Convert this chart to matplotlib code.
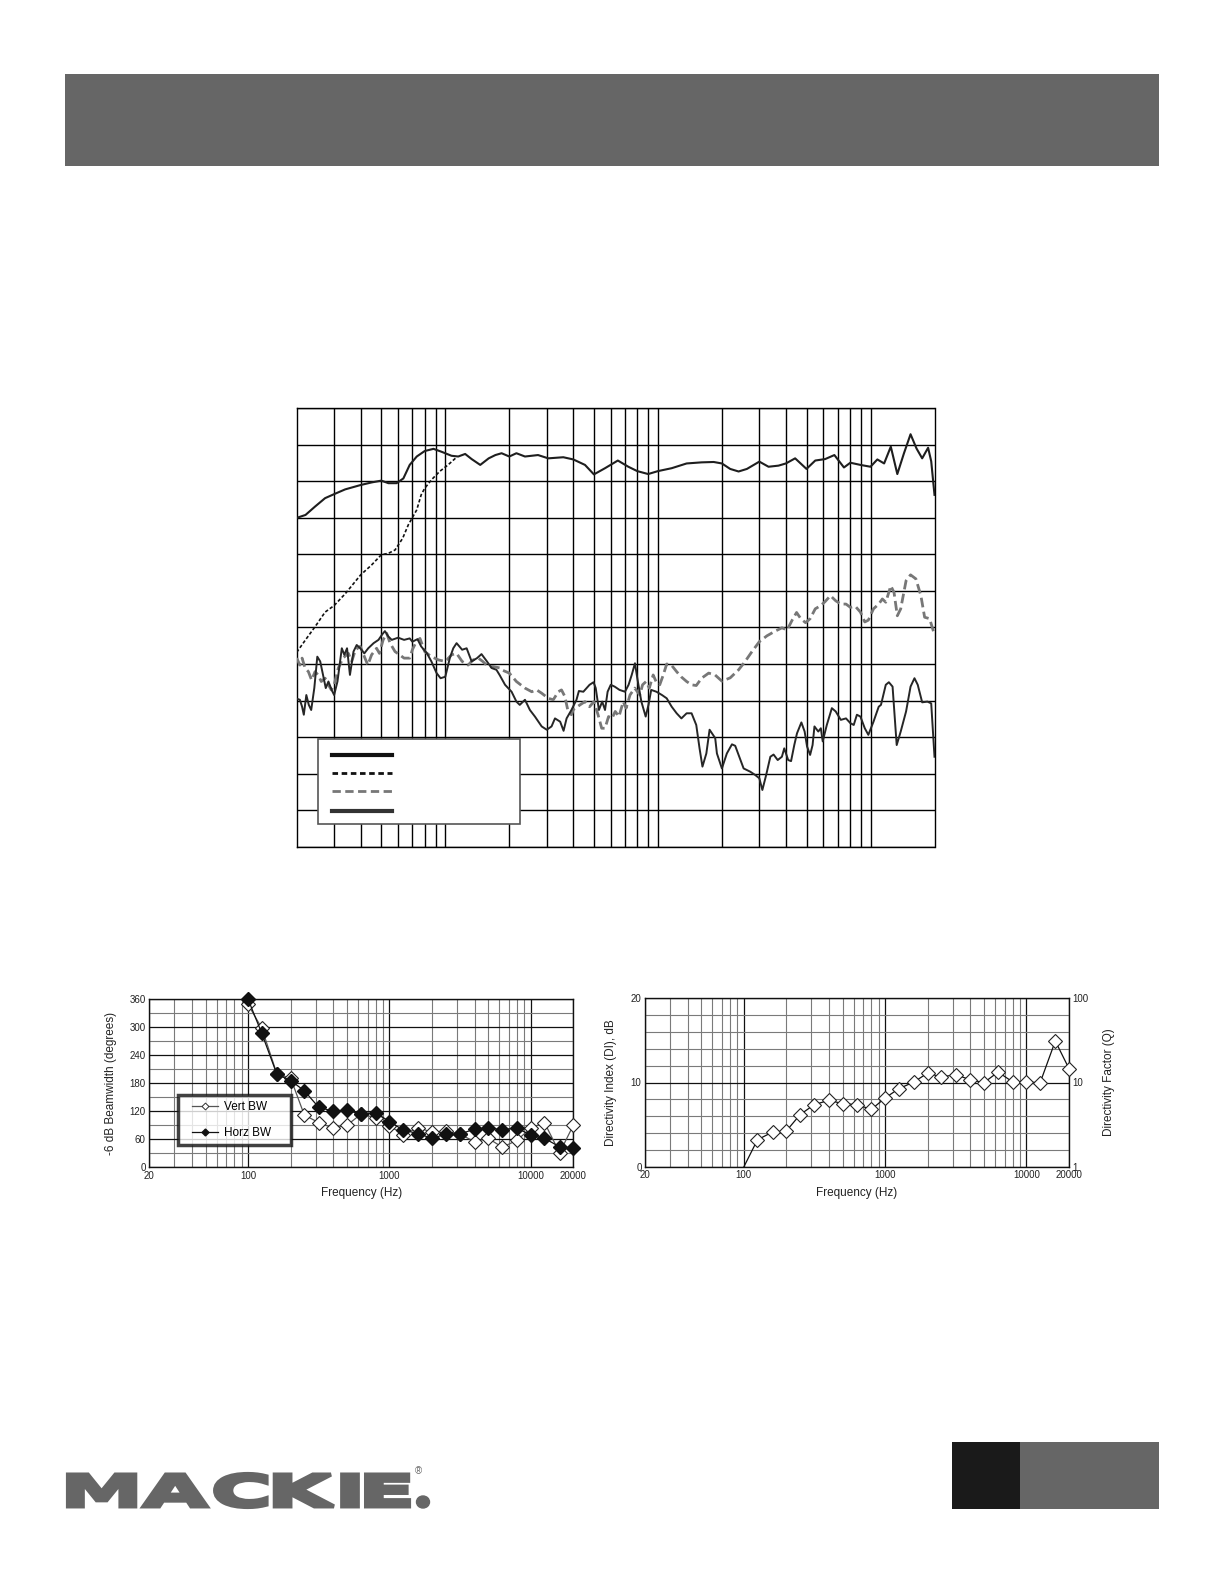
import matplotlib
matplotlib.use("Agg")
import matplotlib.pyplot as plt
from matplotlib.patches import Rectangle, PathPatch, Ellipse
from matplotlib.textpath import TextPath
from matplotlib.path import Path
from matplotlib.font_manager import FontProperties
from matplotlib.transforms import Affine2D
from matplotlib.lines import Line2D
from matplotlib.legend_handler import HandlerLine2D
from matplotlib.ticker import NullLocator, FixedLocator

# ---------------- data: main frequency-response chart (levels in grid divisions) ----
full_f = [20, 22, 24.4, 27.2, 30, 33.8, 40, 45, 50, 54,
          59, 63.5, 68, 73.4, 80, 88, 96, 107, 115, 124,
          133, 146, 160, 172, 184, 200, 216, 237, 273, 305,
          359, 400, 454, 500, 564, 648, 726, 800, 900, 1000,
          1161, 1365, 1605, 1830, 2000, 2188, 2396, 2622, 3000, 3314,
          3690, 4000, 4421, 5000, 5497, 6120, 6763, 7501, 8040, 8965,
          10000, 10770, 11590, 12460, 13370, 14370, 15430, 16460, 17500, 18660,
          19300, 20000]
full_l = [9.00, 9.08, 9.31, 9.54, 9.65, 9.78, 9.90, 9.97, 10.02, 9.95,
          9.95, 10.08, 10.45, 10.68, 10.83, 10.89, 10.81, 10.70, 10.68, 10.75,
          10.61, 10.45, 10.63, 10.72, 10.77, 10.68, 10.77, 10.68, 10.72, 10.63,
          10.66, 10.60, 10.45, 10.19, 10.36, 10.57, 10.40, 10.28, 10.20, 10.28,
          10.36, 10.49, 10.52, 10.53, 10.49, 10.34, 10.27, 10.34, 10.54, 10.40,
          10.43, 10.49, 10.63, 10.34, 10.57, 10.61, 10.72, 10.38, 10.51, 10.45,
          10.40, 10.60, 10.49, 10.95, 10.20, 10.77, 11.29, 10.90, 10.63, 10.92,
          10.55, 9.63]

lf_f = [20, 22, 24.4, 27.2, 30, 33.8, 40, 45, 50, 54,
        58, 63, 67, 73.4, 77, 80, 86, 94, 103, 113]
lf_l = [5.32, 5.66, 6.02, 6.42, 6.60, 6.92, 7.44, 7.71, 7.99, 8.03,
        8.12, 8.44, 8.81, 9.22, 9.63, 9.81, 10.04, 10.27, 10.45, 10.66]

gray_f = [20, 20.7, 21.2, 21.9, 22.7, 23.5, 24.4, 25.2, 26.1, 27.2,
          28.2, 29.1, 30, 31.4, 33, 35, 36.3, 37.8, 39.8, 41.3,
          43.2, 45, 47.5, 49, 51, 53, 55, 58, 61, 64,
          68, 70, 73, 76, 80, 86, 93, 100, 107, 113,
          120, 128, 135, 143, 150, 159, 168, 181,
          184, 200, 216, 237, 255, 269, 284, 305, 322, 340,
          352, 365, 378, 392, 400, 430, 454, 477, 500, 523,
          544, 564, 586, 608, 630, 656, 687, 709, 739, 778,
          822, 847, 880, 911, 950, 980, 1020, 1060, 1100, 1161,
          1225, 1286, 1365, 1440, 1515, 1605, 1733, 1857,
          2000, 2188, 2396, 2573, 2770, 3000, 3256, 3564, 3834, 4054,
          4280, 4490, 4700, 4950, 5200, 5497, 5840, 6120, 6480, 6860,
          7250, 7670, 8040, 8480, 8965, 9400, 9770, 10330, 10930, 11370,
          11800, 12460, 12900, 13370, 13870, 14700, 15430, 16350, 17260, 17970,
          18970, 20000]
gray_l = [5.16, 4.97, 5.16, 4.89, 4.79, 4.56, 4.79, 4.70, 4.52, 4.61,
          4.43, 4.29, 4.43, 4.89, 5.16, 5.29, 5.07, 5.39, 5.48, 5.25,
          4.97, 5.25, 5.43, 5.29, 5.66, 5.84, 5.57, 5.34, 5.25, 5.16,
          5.16, 5.39, 5.61, 5.70, 5.34, 5.20, 5.11, 5.07, 5.25, 5.29,
          5.07, 4.97, 5.11, 5.16, 5.07, 4.93, 4.93, 4.89,
          4.84, 4.75, 4.52, 4.34, 4.24, 4.29, 4.20, 4.06, 4.02, 4.24,
          4.29, 4.11, 3.70, 3.61, 3.75, 3.88, 3.97, 3.83, 3.97, 3.61,
          3.24, 3.24, 3.56, 3.51, 3.70, 3.56, 3.97, 3.79, 4.15, 4.34,
          4.15, 4.43, 4.52, 4.34, 4.70, 4.52, 4.43, 4.70, 5.00, 4.96,
          4.79, 4.65, 4.52, 4.43, 4.41, 4.61, 4.75, 4.70,
          4.53, 4.62, 4.84, 5.07, 5.34, 5.61, 5.77, 5.90, 5.99, 5.93,
          6.20, 6.41, 6.24, 6.13, 6.24, 6.51, 6.60, 6.71, 6.87, 6.73,
          6.64, 6.64, 6.55, 6.58, 6.42, 6.15, 6.20, 6.51, 6.64, 6.78,
          6.69, 7.14, 6.96, 6.32, 6.51, 7.28, 7.44, 7.33, 6.87, 6.28,
          6.24, 5.80]

dark_f = [20, 20.7, 21.2, 21.6, 22.2, 22.8, 23.4, 24.2, 25, 25.8, 26.4,
          27.4, 28.2, 29.2, 30, 31.1, 32.6, 33.5, 34.5, 35.6, 37,
          38.3, 39.8, 41.6, 43.4, 46, 48.5, 50.5, 52, 54, 56,
          60, 64, 68, 70, 74, 77, 82, 86, 91, 95,
          100, 105, 109, 113, 120, 126, 133, 141, 148, 157,
          165, 174,
          180, 191, 205, 216, 224, 237, 250, 264, 284, 300,
          316, 328, 347, 360, 372, 392, 414, 425, 446, 462,
          477, 498, 510, 528, 547, 564, 580, 600, 626, 660,
          700, 728, 753, 780, 800, 836, 876, 903, 930, 984,
          1045, 1100, 1161, 1225, 1290, 1365, 1440, 1515, 1570, 1620,
          1690, 1750, 1860,
          1895, 2000, 2110, 2230, 2310, 2396, 2530, 2720, 2870, 3000,
          3100, 3230, 3380, 3500, 3660, 3830, 3930, 4100, 4230, 4380,
          4510, 4730, 4900, 5030, 5200, 5340, 5450, 5680, 5840, 5960,
          6230, 6580, 6860, 7250, 7670, 8040, 8340, 8630, 8965, 9400,
          9770, 10330, 10930, 11200, 11800, 12200, 12700, 13280, 13870, 14700,
          15430, 16100, 16680, 17500, 18520, 19300, 20000]
dark_l = [4.05, 4.02, 3.83, 3.61, 4.15, 3.88, 3.74, 4.34, 5.20, 5.07, 4.79,
          4.34, 4.52, 4.29, 4.15, 4.52, 5.43, 5.25, 5.43, 4.70, 5.34,
          5.52, 5.43, 5.29, 5.43, 5.57, 5.66, 5.81, 5.90, 5.75, 5.66,
          5.72, 5.66, 5.70, 5.61, 5.68, 5.48, 5.29, 5.07, 4.75, 4.61,
          4.65, 5.16, 5.43, 5.57, 5.39, 5.43, 5.07, 5.16, 5.27, 5.07,
          4.89, 4.84,
          4.70, 4.43, 4.24, 3.97, 3.88, 4.02, 3.74, 3.56, 3.29, 3.20,
          3.29, 3.51, 3.42, 3.17, 3.51, 3.74, 4.02, 4.26, 4.24, 4.34,
          4.43, 4.50, 4.34, 3.74, 3.97, 3.74, 4.24, 4.43, 4.38, 4.29,
          4.24, 4.43, 4.70, 5.02, 4.61, 3.97, 3.56, 3.88, 4.29, 4.24,
          4.15, 4.06, 3.83, 3.65, 3.51, 3.65, 3.65, 3.33, 2.69, 2.19,
          2.55, 3.20, 2.97,
          2.55, 2.14, 2.55, 2.80, 2.76, 2.51, 2.14, 2.05, 1.96, 1.87,
          1.55, 1.96, 2.46, 2.52, 2.37, 2.46, 2.69, 2.37, 2.34, 2.78,
          3.10, 3.40, 3.15, 2.74, 2.51, 2.78, 3.29, 3.15, 3.24, 2.88,
          3.33, 3.79, 3.70, 3.47, 3.51, 3.38, 3.33, 3.61, 3.56, 3.24,
          3.06, 3.42, 3.83, 3.88, 4.43, 4.50, 4.38, 2.78, 3.15, 3.70,
          4.38, 4.61, 4.43, 3.95, 3.97, 3.92, 2.46]

# ---------------- data: beamwidth & directivity ----------------
bw_freq = [100, 125, 160, 200, 250, 315, 400, 500, 630, 800, 1000, 1250,
           1600, 2000, 2500, 3150, 4000, 5000, 6300, 8000, 10000, 12500, 16000, 20000]
vert_bw = [349, 298, 200, 191, 112, 96, 84, 90, 114, 106, 89, 70,
           85, 75, 78, 71, 55, 62, 43, 58, 84, 96, 31, 90]
horz_bw = [360, 287, 199, 186, 164, 129, 120, 122, 114, 117, 98, 80,
           72, 62, 71, 71, 82, 84, 81, 84, 69, 62, 44, 41]

di_freq = [100, 125, 160, 200, 250, 315, 400, 500, 630, 800, 1000, 1250,
           1600, 2000, 2500, 3150, 4000, 5000, 6300, 8000, 10000, 12500, 16000, 20000]
di_db = [0.0, 3.23, 4.14, 4.26, 6.19, 7.38, 7.89, 7.50, 7.38, 6.82, 8.17, 9.27,
         10.06, 11.12, 10.65, 10.93, 10.33, 9.98, 11.24, 10.06, 10.06, 9.98, 14.91, 11.64]

freq_ticks = [20, 100, 1000, 10000, 20000]
freq_tick_labels = ["20", "100", "1000", "10000", "20000"]
bw_ticks = [0, 60, 120, 180, 240, 300, 360]
di_ticks = [0, 10, 20]
q_ticks = [1, 10, 100]

# ---------------- figure ----------------
W, H = 1224, 1584
fig = plt.figure(figsize=(W / 100, H / 100), dpi=100)
fig.patch.set_facecolor("white")
plt.rcParams['font.family'] = ['Liberation Sans', 'DejaVu Sans']


def px_rect(x0, y0, x1, y1):
    return [x0 / W, 1 - y1 / H, (x1 - x0) / W, (y1 - y0) / H]


def add_px_box(x0, y0, x1, y1, color):
    fig.add_artist(Rectangle((x0 / W, 1 - y1 / H), (x1 - x0) / W, (y1 - y0) / H,
                             transform=fig.transFigure, facecolor=color,
                             edgecolor="none"))


# header bar and page tabs
add_px_box(65, 74, 1159, 166, "#666666")
add_px_box(952, 1442, 1020, 1509, "#1a1a1a")
add_px_box(1020, 1442, 1159, 1509, "#666666")

# logo: heavy, tightly spaced letters
fp = FontProperties(family=["DejaVu Sans"], weight="bold")
pieces = []
xpos = 0.0
for ch in "MACKIE":
    p = TextPath((0, 0), ch, size=1, prop=fp)
    e = p.get_extents()
    v = p.vertices.copy()
    v[:, 0] += xpos - e.x0
    pieces.append(Path(v, p.codes))
    xpos += e.width + 0.1
logo_path = Path.make_compound_path(*pieces)
bb = logo_path.get_extents()
lx0, lx1, ly0, ly1 = 68, 409, 1474, 1507
tr = (Affine2D().translate(-bb.x0, -bb.y0)
      .scale((lx1 - lx0) / bb.width, (ly1 - ly0) / bb.height)
      .translate(lx0, H - ly1).scale(1 / W, 1 / H) + fig.transFigure)
fig.add_artist(PathPatch(logo_path, transform=tr, facecolor="#666666",
                         edgecolor="#666666", lw=3.0, joinstyle="miter"))
fig.add_artist(Ellipse((423 / W, 1 - 1502 / H), 13 / W, 12 / H,
                       transform=fig.transFigure, color="#666666"))
fig.text(418.5 / W, 1 - 1471 / H, "®", fontsize=7, color="#666666",
         ha="center", va="center")

# ---------------- main chart ----------------
ax = fig.add_axes(px_rect(296.7, 408.3, 934.5, 846.6))
ax.set_xscale("log")
ax.set_xlim(20, 20000)
ax.set_ylim(0, 12)
grid_freqs = [m * 10 ** e for e in (1, 2, 3, 4) for m in range(1, 10)
              if 20 < m * 10 ** e < 20000]
ax.xaxis.set_major_locator(FixedLocator(grid_freqs))
ax.xaxis.set_minor_locator(NullLocator())
ax.set_yticks(range(13))
ax.tick_params(length=0, labelbottom=False, labelleft=False)
ax.grid(True, color="black", lw=1.0)
for s in ax.spines.values():
    s.set_linewidth(1.0)
    s.set_color("black")

ax.plot(lf_f, lf_l, color="#111111", lw=1.2, ls=(0, (2.0, 1.3)), zorder=3)
ax.plot(full_f, full_l, color="#1e1e1e", lw=1.5, zorder=4)
ax.plot(gray_f, gray_l, color="#777777", lw=2.0, ls=(0, (3.5, 1.6)), zorder=3)
ax.plot(dark_f, dark_l, color="#262626", lw=1.4, zorder=3)

# legend (box with line samples only)
ax.add_patch(Rectangle((0.034, 0.051), 0.316, 0.194, transform=ax.transAxes,
                       facecolor="white", edgecolor="#555555", lw=1.2, zorder=5))
leg_styles = [dict(color="#111111", lw=3.0, ls="-"),
              dict(color="#111111", lw=2.0, ls=(0, (2.0, 1.3))),
              dict(color="#777777", lw=2.0, ls=(0, (3.0, 1.6))),
              dict(color="#333333", lw=3.0, ls="-")]
for yy, st in zip([0.209, 0.167, 0.127, 0.081], leg_styles):
    ax.add_line(Line2D([0.055, 0.150], [yy, yy], transform=ax.transAxes,
                       zorder=6, **st))

# ---------------- helper for small charts ----------------
def style_small(a):
    a.set_xscale("log")
    a.set_xlim(20, 20000)
    a.xaxis.set_major_locator(FixedLocator(freq_ticks))
    a.set_xticklabels(freq_tick_labels)
    minor = [m * 10 ** e for e in (1, 2, 3, 4) for m in range(2, 10)
             if 20 < m * 10 ** e < 20000]
    a.xaxis.set_minor_locator(FixedLocator(minor))
    a.tick_params(which="both", length=0, labelsize=7, pad=2.5,
                  colors="#222222")
    a.grid(True, which="major", color="#111111", lw=0.9)
    a.grid(True, which="minor", color="#7a7a7a", lw=0.8)
    for s in a.spines.values():
        s.set_linewidth(1.0)
        s.set_color("#111111")


# ---------------- beamwidth chart ----------------
ab = fig.add_axes(px_rect(149.3, 999.3, 573.3, 1167.3))
style_small(ab)
ab.set_ylim(0, 360)
ab.set_yticks(bw_ticks)
ab.yaxis.set_minor_locator(FixedLocator([30, 90, 150, 210, 270, 330]))
ab.plot(bw_freq, vert_bw, color="#555555", lw=0.9, marker="D", ms=7,
        mfc="white", mec="#222222", mew=0.8, clip_on=False, zorder=4,
        label="Vert BW")
ab.plot(bw_freq, horz_bw, color="#111111", lw=0.9, marker="D", ms=7,
        mfc="#111111", mec="#111111", clip_on=False, zorder=5,
        label="Horz BW")
ab.set_ylabel("-6 dB Beamwidth (degrees)", fontsize=8.5, color="#222222")
ab.yaxis.set_label_coords(-0.076, 0.5)
ab.set_xlabel("Frequency (Hz)", fontsize=8.5, color="#222222", va="top")
ab.xaxis.set_label_coords(0.5, -0.12)
h_v = Line2D([], [], color="#555555", lw=0.9, marker="D", ms=3.5,
             mfc="white", mec="#333333", mew=0.7)
h_h = Line2D([], [], color="#111111", lw=0.9, marker="D", ms=3.5,
             mfc="#111111", mec="#111111")
lg = ab.legend([h_v, h_h], ["Vert BW", "Horz BW"], loc="center",
               bbox_to_anchor=(0.067, 0.133, 0.2665, 0.297), mode="expand",
               fontsize=8.5, frameon=True, fancybox=False, handlelength=2.9,
               handletextpad=0.45, borderpad=0.55, labelspacing=1.15,
               borderaxespad=0,
               handler_map={Line2D: HandlerLine2D(xpad=0.7)})
lg.get_frame().set_edgecolor("#111111")
lg.get_frame().set_linewidth(2.5)
lg.set_zorder(10)

# ---------------- directivity chart ----------------
ad = fig.add_axes(px_rect(645, 998, 1069, 1167))
style_small(ad)
ad.set_ylim(0, 20)
ad.set_yticks(di_ticks)
ad.yaxis.set_minor_locator(FixedLocator([2, 4, 6, 8, 12, 14, 16, 18]))
ad.plot(di_freq, di_db, color="#111111", lw=0.9, zorder=4)
ad.plot(di_freq[1:], di_db[1:], ls="none", marker="D", ms=7.5, mfc="white",
        mec="#222222", mew=0.8, clip_on=False, zorder=5)
ad.set_ylabel("Directivity Index (DI), dB", fontsize=8.5, color="#222222")
ad.yaxis.set_label_coords(-0.067, 0.5)
ad.set_xlabel("Frequency (Hz)", fontsize=8.5, color="#222222", va="top")
ad.xaxis.set_label_coords(0.5, -0.12)
aq = ad.twinx()
aq.set_yscale("log")
aq.set_ylim(1, 100)
aq.yaxis.set_major_locator(FixedLocator(q_ticks))
aq.set_yticklabels(["1", "10", "100"])
aq.yaxis.set_minor_locator(NullLocator())
aq.tick_params(length=0, labelsize=7, pad=2.5, colors="#222222")
aq.set_ylabel("Directivity Factor (Q)", fontsize=8.5, color="#222222")
aq.yaxis.set_label_coords(1.08, 0.5)
for s in aq.spines.values():
    s.set_visible(False)

fig.savefig("out.png", dpi=100, facecolor="white")
